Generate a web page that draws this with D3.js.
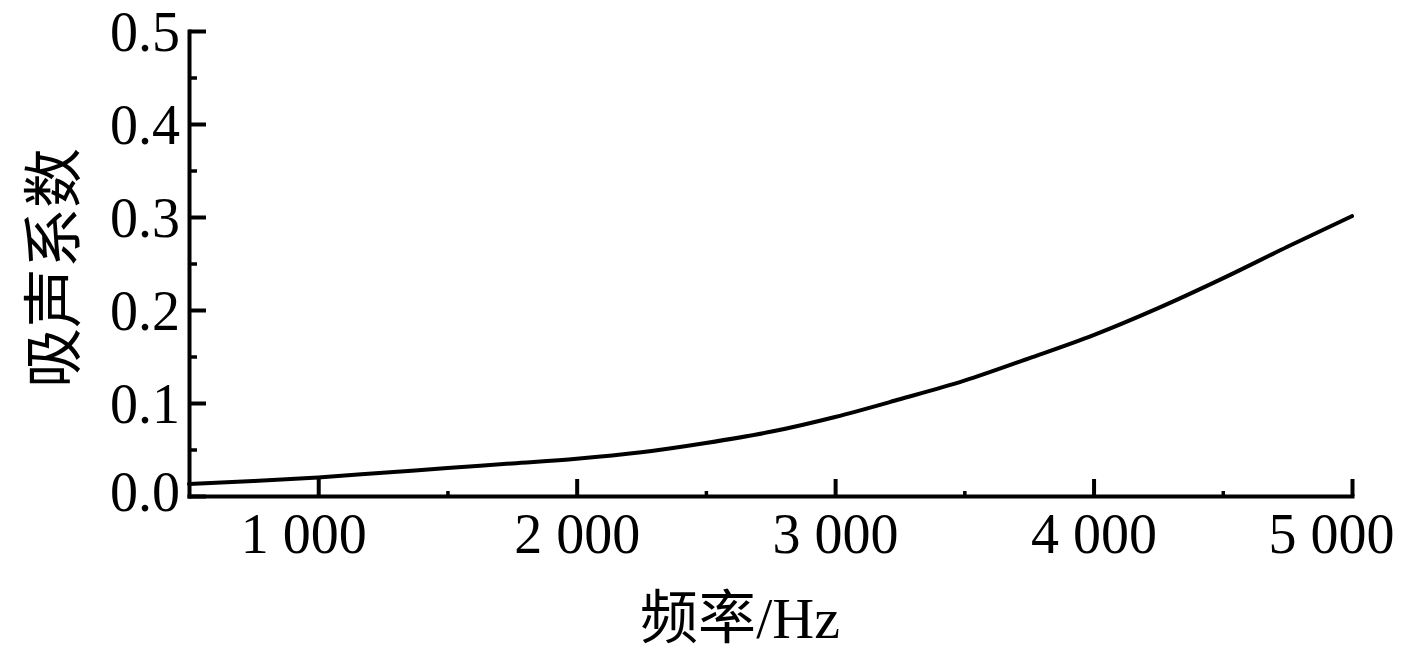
<!DOCTYPE html>
<html>
<head>
<meta charset="utf-8">
<script src="https://cdn.jsdelivr.net/npm/d3@7"></script>
<style>
  html, body { margin: 0; padding: 0; background: #fff; }
  svg { display: block; }
</style>
</head>
<body>
<svg id="chart" width="1417" height="658"></svg>
<script>
// ---- data ----
const freq = [500, 750, 1000, 1250, 1500, 1750, 2000, 2250, 2500, 2750, 3000, 3250, 3500, 3750, 4000, 4250, 4500, 4750, 5000];
const absorption = [0.013, 0.016, 0.020, 0.025, 0.030, 0.035, 0.040, 0.047, 0.057, 0.069, 0.085, 0.104, 0.124, 0.148, 0.173, 0.202, 0.234, 0.268, 0.301];
const xTickValues = [1000, 2000, 3000, 4000, 5000];
const xTickLabels = ["1 000", "2 000", "3 000", "4 000", "5 000"];
const xMinorTicks = [1500, 2500, 3500, 4500];
const yTickValues = [0.0, 0.1, 0.2, 0.3, 0.4, 0.5];
const yTickLabels = ["0.0", "0.1", "0.2", "0.3", "0.4", "0.5"];
const yMinorTicks = [0.05, 0.15, 0.25, 0.35, 0.45];
const xTitleCJK = "频率";
const xTitleUnit = "/Hz";
const yTitle = "吸声系数";

(function () {
// ---- layout ----
const svg = d3.select("#chart");
const mLeft = 189, mRight = 1352, mTop = 31, mBottom = 496;
const x = d3.scaleLinear().domain([500, 5000]).range([mLeft, mRight]);
const y = d3.scaleLinear().domain([0, 0.5]).range([mBottom, mTop]);
const serif = "'Liberation Serif', 'Times New Roman', serif";
const cjk = "'Noto Sans CJK SC', 'Noto Sans CJK JP', sans-serif";
const fs = 56;
const cfs = 58;
const sw = 4;

// curve
const line = d3.line().x((d, i) => x(freq[i])).y(d => y(d)).curve(d3.curveMonotoneX);
svg.append("path")
  .datum(absorption)
  .attr("d", line)
  .attr("fill", "none")
  .attr("stroke", "#000")
  .attr("stroke-width", 4)
  .attr("stroke-linecap", "round");

// x axis
const xAxis = d3.axisBottom(x)
  .tickValues(xTickValues)
  .tickFormat((d, i) => xTickLabels[i])
  .tickSizeInner(-17)
  .tickSizeOuter(0)
  .tickPadding(17);
const gx = svg.append("g").attr("transform", `translate(0,${mBottom})`).call(xAxis);
gx.select(".domain").attr("stroke-width", sw).attr("stroke-linecap", "square");
gx.selectAll(".tick line").attr("stroke-width", sw);
gx.selectAll(".tick text")
  .attr("font-family", serif)
  .attr("font-size", fs)
  .attr("fill", "#000")
  .attr("dx", (d, i) => i === 0 ? -15 : (i === xTickValues.length - 1 ? -21 : 0));

// x minor ticks
const xMinor = d3.axisBottom(x).tickValues(xMinorTicks).tickFormat("").tickSizeInner(-5).tickSizeOuter(0);
const gxm = svg.append("g").attr("transform", `translate(0,${mBottom})`).call(xMinor);
gxm.select(".domain").remove();
gxm.selectAll(".tick line").attr("stroke-width", 3.5);

// y axis
const yAxis = d3.axisLeft(y)
  .tickValues(yTickValues)
  .tickFormat((d, i) => yTickLabels[i])
  .tickSizeInner(-17)
  .tickSizeOuter(0)
  .tickPadding(9);
const gy = svg.append("g").attr("transform", `translate(${mLeft},0)`).call(yAxis);
gy.select(".domain").attr("stroke-width", sw).attr("stroke-linecap", "square");
gy.selectAll(".tick line").attr("stroke-width", sw);
gy.selectAll(".tick text")
  .attr("font-family", serif)
  .attr("font-size", fs)
  .attr("fill", "#000")
  .attr("dy", (d, i) => i === 0 ? "0.26em" : "0.34em");

// y minor ticks
const yMinor = d3.axisLeft(y).tickValues(yMinorTicks).tickFormat("").tickSizeInner(-8).tickSizeOuter(0);
const gym = svg.append("g").attr("transform", `translate(${mLeft},0)`).call(yMinor);
gym.select(".domain").remove();
gym.selectAll(".tick line").attr("stroke-width", 3.5);

// x title
const xt = svg.append("text")
  .attr("x", 740)
  .attr("y", 638)
  .attr("text-anchor", "middle")
  .attr("fill", "#000");
xt.append("tspan").attr("font-family", cjk).attr("font-size", cfs).text(xTitleCJK);
xt.append("tspan").attr("font-family", serif).attr("font-size", fs + 2).text(xTitleUnit);

// y title
svg.append("text")
  .attr("transform", "translate(48,268) rotate(-90)")
  .attr("text-anchor", "middle")
  .attr("dominant-baseline", "central")
  .attr("font-family", cjk)
  .attr("font-size", 60)
  .attr("fill", "#000")
  .text(yTitle);
})();
</script>
</body>
</html>
